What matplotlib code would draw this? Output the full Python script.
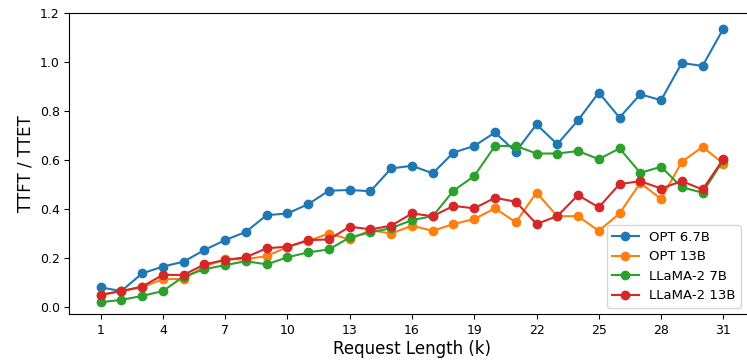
import matplotlib
matplotlib.use("Agg")
import matplotlib.pyplot as plt

request_k = list(range(1, 32))

opt_67b = [0.080, 0.065, 0.137, 0.165, 0.185, 0.233, 0.273, 0.307, 0.375, 0.382,
           0.420, 0.475, 0.478, 0.473, 0.566, 0.577, 0.546, 0.631, 0.658, 0.713,
           0.634, 0.746, 0.665, 0.763, 0.876, 0.774, 0.869, 0.845, 0.997, 0.985,
           1.137]
opt_13b = [0.050, 0.065, 0.080, 0.114, 0.114, 0.165, 0.195, 0.195, 0.208, 0.245,
           0.270, 0.300, 0.276, 0.314, 0.300, 0.332, 0.311, 0.339, 0.359, 0.403,
           0.346, 0.467, 0.371, 0.371, 0.311, 0.382, 0.507, 0.441, 0.593, 0.654,
           0.586]
llama2_7b = [0.019, 0.029, 0.045, 0.065, 0.124, 0.154, 0.171, 0.187, 0.174, 0.203,
             0.223, 0.235, 0.284, 0.305, 0.322, 0.355, 0.371, 0.475, 0.535, 0.658,
             0.658, 0.627, 0.627, 0.637, 0.604, 0.648, 0.548, 0.573, 0.489, 0.467,
             0.600]
llama2_13b = [0.049, 0.065, 0.083, 0.131, 0.131, 0.174, 0.192, 0.203, 0.240, 0.246,
              0.273, 0.276, 0.328, 0.317, 0.332, 0.382, 0.371, 0.413, 0.403, 0.446,
              0.430, 0.339, 0.371, 0.457, 0.407, 0.502, 0.514, 0.484, 0.514, 0.480,
              0.604]

series = [("OPT 6.7B", opt_67b), ("OPT 13B", opt_13b),
          ("LLaMA-2 7B", llama2_7b), ("LLaMA-2 13B", llama2_13b)]

fig = plt.figure(figsize=(7.47, 3.6), dpi=100)
ax = fig.add_axes([0.093, 0.127, 0.917, 0.836])

for name, vals in series:
    ax.plot(request_k, vals, marker="o", markersize=6, linewidth=1.5, label=name)

ax.set_xlim(-0.5, 32.5)
ax.set_ylim(-0.03, 1.2)
ax.set_xticks(request_k[::3])
ax.set_yticks([0.0, 0.2, 0.4, 0.6, 0.8, 1.0, 1.2])
ax.tick_params(labelsize=9)
ax.set_xlabel("Request Length (k)", fontsize=12, labelpad=2)
ax.set_ylabel("TTFT / TTET", fontsize=12)
ax.legend(loc="lower right", fontsize=9.5, bbox_to_anchor=(0.99, 0.0))

fig.savefig("out.png", dpi=100)
